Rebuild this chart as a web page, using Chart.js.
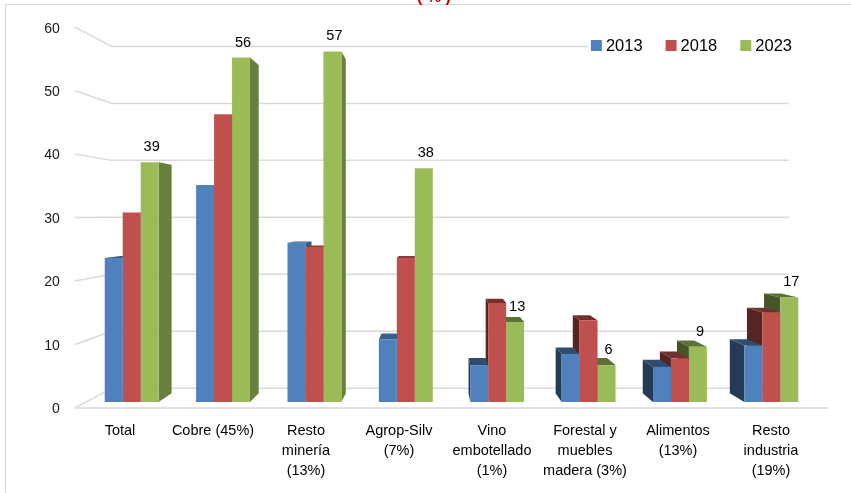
<!DOCTYPE html>
<html>
<head>
<meta charset="utf-8">
<title>Exportaciones por sector</title>
<style>
  html, body { margin: 0; padding: 0; background: #ffffff; overflow: hidden; }
  #wrap { position: relative; width: 851px; height: 493px; }
</style>
<script src="https://cdn.jsdelivr.net/npm/chart.js@4.4.1/dist/chart.umd.min.js"></script>
</head>
<body>
<div id="wrap"><canvas id="chart" width="851" height="493"></canvas></div>
<script>
// ---- data ----
const categories = [
  ['Total'],
  ['Cobre (45%)'],
  ['Resto', 'minería', '(13%)'],
  ['Agrop-Silv', '(7%)'],
  ['Vino', 'embotellado', '(1%)'],
  ['Forestal y', 'muebles', 'madera (3%)'],
  ['Alimentos', '(13%)'],
  ['Resto', 'industria', '(19%)']
];
const years = ['2013', '2018', '2023'];
const values2013 = [23.4, 35.3, 25.9, 10.2, 6.0, 7.8, 5.7, 9.2];
const values2018 = [30.8, 46.8, 25.2, 23.4, 16.1, 13.3, 7.1, 14.6];
const values2023 = [39, 56, 57, 38, 13, 6, 9, 17];
const yTicks = [0, 10, 20, 30, 40, 50, 60];
const unitLabel = '( % )';

// ---- styling ----
const FONT = "'Liberation Sans', Arial, sans-serif";
const seriesColors = ['#4F81BD', '#C0504D', '#9BBB59'];
const gridColor = '#d9d9d9';

// perspective used for the 3D look: vanishing point and depth factors
const VP = { x: 435, y: 215 };
const K_BAR = 0.047;    // back face of the columns
const K_WALL = 0.074;   // back wall carrying the gridlines
const K_FRONT = -0.032; // front edge of the floor

function proj(x, y, k) {
  return { x: x + k * (VP.x - x), y: y + k * (VP.y - y) };
}
function shade(hex, f) {
  const n = parseInt(hex.slice(1), 16);
  const r = Math.round(((n >> 16) & 255) * f);
  const g = Math.round(((n >> 8) & 255) * f);
  const b = Math.round((n & 255) * f);
  return `rgb(${r},${g},${b})`;
}
function quad(ctx, pts, color) {
  ctx.beginPath();
  ctx.moveTo(pts[0].x, pts[0].y);
  for (let i = 1; i < pts.length; i++) ctx.lineTo(pts[i].x, pts[i].y);
  ctx.closePath();
  ctx.fillStyle = color;
  ctx.fill();
}

// legend in the upper right corner of the plot, over a white patch
function drawLegend(chart) {
  const ctx = chart.ctx;
  const size = 16.5, box = 11, gap = 4, spacing = 23;
  ctx.save();
  ctx.font = `${size}px ${FONT}`;
  const items = chart.data.datasets.map(ds => ({
    text: ds.label, color: ds.backgroundColor, w: ctx.measureText(ds.label).width
  }));
  const total = items.reduce((s, it) => s + box + gap + it.w, 0) + spacing * (items.length - 1);
  const right = chart.chartArea.right - 25;
  const cy = chart.chartArea.top + 12.5;
  let x = right - total;
  ctx.fillStyle = '#ffffff';
  ctx.fillRect(x - 3, cy - 10, total + 6, 20);
  ctx.textAlign = 'left';
  ctx.textBaseline = 'middle';
  items.forEach(it => {
    ctx.fillStyle = it.color;
    ctx.fillRect(x, cy - box / 2, box, box);
    x += box + gap;
    ctx.fillStyle = '#000000';
    ctx.fillText(it.text, x, cy + 1);
    x += it.w + spacing;
  });
  ctx.restore();
}

const scenePlugin = {
  id: 'scene3d',
  beforeDraw(chart) {
    const ctx = chart.ctx;
    const area = chart.chartArea;
    const yScale = chart.scales.y;
    ctx.save();

    // outer frame
    ctx.strokeStyle = gridColor;
    ctx.lineWidth = 1;
    ctx.beginPath();
    ctx.moveTo(5.5, 600);
    ctx.lineTo(5.5, 4.5);
    ctx.lineTo(900, 4.5);
    ctx.stroke();

    // unit title (sits at the top edge)
    ctx.fillStyle = '#C00000';
    ctx.font = `bold 16px ${FONT}`;
    ctx.textAlign = 'center';
    ctx.textBaseline = 'alphabetic';
    ctx.fillText(unitLabel, 434, 1.5);

    // back wall gridlines with their side-wall diagonals and value labels
    ctx.strokeStyle = gridColor;
    ctx.lineWidth = 1.5;
    ctx.font = `14px ${FONT}`;
    ctx.fillStyle = '#1a1a1a';
    ctx.textAlign = 'right';
    ctx.textBaseline = 'middle';
    yTicks.forEach(v => {
      const y = yScale.getPixelForValue(v);
      const fl = proj(area.left, y, K_FRONT);
      const wl = proj(area.left, y, K_WALL);
      const wr = proj(area.right, y, K_WALL);
      ctx.beginPath();
      ctx.moveTo(fl.x, fl.y);
      ctx.lineTo(wl.x, wl.y);
      ctx.lineTo(wr.x, wr.y);
      ctx.stroke();
      if (v === 0) {
        const fr = proj(area.right, y, K_FRONT);
        ctx.beginPath();
        ctx.moveTo(fl.x, fl.y);
        ctx.lineTo(fr.x, fr.y);
        ctx.stroke();
      }
      ctx.fillText(String(v), fl.x - 15, fl.y + 1.5);
    });
    ctx.restore();

    drawLegend(chart);
  },
  beforeDatasetsDraw(chart) {
    const ctx = chart.ctx;
    const bars = [];
    chart.data.datasets.forEach((ds, i) => {
      const meta = chart.getDatasetMeta(i);
      meta.data.forEach(el => {
        const p = el.getProps(['x', 'y', 'base', 'width'], true);
        bars.push({
          x0: p.x - p.width / 2, x1: p.x + p.width / 2,
          cx: p.x, top: p.y, base: p.base, color: ds.backgroundColor
        });
      });
    });
    // columns farther from the vanishing point go first
    bars.sort((a, b) => Math.abs(b.cx - VP.x) - Math.abs(a.cx - VP.x));
    ctx.save();
    bars.forEach(b => {
      if (b.x1 < VP.x) {
        quad(ctx, [
          { x: b.x1, y: b.top }, proj(b.x1, b.top, K_BAR),
          proj(b.x1, b.base, K_BAR), { x: b.x1, y: b.base }
        ], shade(b.color, 0.68));
      } else if (b.x0 > VP.x) {
        quad(ctx, [
          { x: b.x0, y: b.top }, proj(b.x0, b.top, K_BAR),
          proj(b.x0, b.base, K_BAR), { x: b.x0, y: b.base }
        ], shade(b.color, 0.45));
      }
      if (b.top > VP.y) {
        quad(ctx, [
          { x: b.x0, y: b.top }, { x: b.x1, y: b.top },
          proj(b.x1, b.top, K_BAR), proj(b.x0, b.top, K_BAR)
        ], shade(b.color, b.cx < VP.x ? 0.74 : 0.6));
      }
    });
    ctx.restore();
  },
  afterDatasetsDraw(chart) {
    const ctx = chart.ctx;
    const meta = chart.getDatasetMeta(2);
    ctx.save();
    ctx.font = `14.5px ${FONT}`;
    ctx.fillStyle = '#000000';
    ctx.textAlign = 'center';
    ctx.textBaseline = 'middle';
    meta.data.forEach((el, j) => {
      const p = el.getProps(['x', 'y'], true);
      ctx.fillText(String(values2023[j]), p.x + 2, p.y - 15);
    });
    ctx.restore();
  }
};

new Chart(document.getElementById('chart'), {
  type: 'bar',
  data: {
    labels: categories.map(c => c.join(' ')),
    datasets: [
      { label: years[0], data: values2013, backgroundColor: seriesColors[0] },
      { label: years[1], data: values2018, backgroundColor: seriesColors[1] },
      { label: years[2], data: values2023, backgroundColor: seriesColors[2] }
    ]
  },
  options: {
    responsive: false,
    animation: false,
    devicePixelRatio: 1,
    layout: { padding: { left: 86, right: 34, top: 33, bottom: 0 } },
    datasets: {
      bar: { categoryPercentage: 0.59, barPercentage: 1.0, borderWidth: 0 }
    },
    scales: {
      x: { display: false },
      xLabels: {
        type: 'linear',
        position: 'bottom',
        offset: false,
        min: -0.3656,
        max: 7.4946,
        grid: { display: false, offset: false },
        border: { display: false },
        afterFit: s => { s.height = 91; },
        ticks: {
          stepSize: 1,
          includeBounds: false,
          autoSkip: false,
          maxRotation: 0,
          minRotation: 0,
          padding: 11,
          color: '#000000',
          font: { family: FONT, size: 14.5, lineHeight: 1.38 },
          callback: v => (Number.isInteger(v) && categories[v]) ? categories[v] : ''
        }
      },
      y: { display: false, min: 0, max: 60 }
    },
    plugins: {
      legend: { display: false },
      tooltip: { enabled: false },
      title: { display: false }
    }
  },
  plugins: [scenePlugin]
});
</script>
</body>
</html>
